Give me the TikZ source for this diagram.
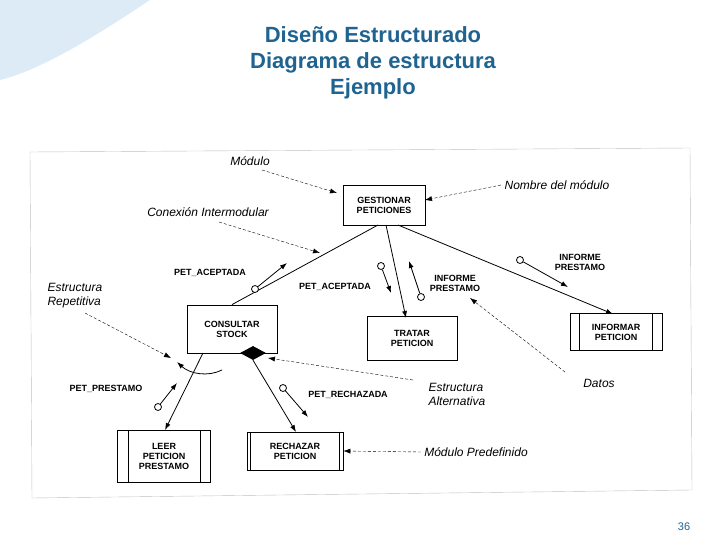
\documentclass[tikz,border=0pt]{standalone}
\usepackage{fontspec}
\setmainfont{Liberation Sans}
\usetikzlibrary{arrows.meta,shapes.geometric}
\definecolor{titleColor}{HTML}{1F6391}
\definecolor{waveColor}{HTML}{DCEBF5}

\begin{document}
\begin{tikzpicture}[x=1pt,y=-1pt,
modbox/.style={draw,thick,fill=white,font=\fontsize{9}{10}\selectfont\bfseries,align=center,inner sep=1pt},
call/.style={thick,-{Latex[length=7pt,width=5pt]}},
couple/.style={draw,circle,thick,minimum size=7pt,inner sep=0,fill=white},
flow/.style={thick,-{Latex[length=7pt,width=5pt]}},
note/.style={font=\fontsize{12}{14}\selectfont\itshape,align=left},
noteArrow/.style={densely dashed,-{Latex[length=7pt,width=5pt]}},
dlabel/.style={font=\fontsize{9}{10}\selectfont\bfseries,align=center}
]
\useasboundingbox (0,0) rectangle (728,546);
% background and scanned frame
\fill[waveColor] (0,0) -- (150,0) .. controls (90,40) and (40,70) .. (0,80) -- cycle;
\draw[black!25] (30,152) -- (690,148) -- (692,490) -- (32,498) -- cycle;
% title
\node[titleColor,font=\fontsize{22}{26}\selectfont\bfseries,align=center] (title) at (373,63)
  {Diseño Estructurado\\Diagrama de estructura\\Ejemplo};
\node[titleColor,font=\fontsize{11}{12}\selectfont] (page) at (684,527) {36};

% modules
\node[modbox,minimum width=82pt,minimum height=40pt] (gest) at (384,205) {GESTIONAR\\PETICIONES};
\node[modbox,minimum width=90pt,minimum height=48pt] (cons) at (232,329) {CONSULTAR\\STOCK};
\node[modbox,minimum width=90pt,minimum height=44pt] (trat) at (412,338) {TRATAR\\PETICION};
\node[modbox,minimum width=92pt,minimum height=37pt] (info) at (616,332) {INFORMAR\\PETICION};
\node[modbox,minimum width=93pt,minimum height=52pt] (leer) at (164,456) {LEER\\PETICION\\PRESTAMO};
\node[modbox,minimum width=96pt,minimum height=38pt] (rech) at (295,451) {RECHAZAR\\PETICION};
\foreach \m/\d in {info/10,leer/11,rech/4}{
  \draw[thick] ([xshift=\d pt]\m.north west) -- ([xshift=\d pt]\m.south west);
  \draw[thick] ([xshift=-\d pt]\m.north east) -- ([xshift=-\d pt]\m.south east);
}
\node[diamond,fill,minimum width=26pt,minimum height=14pt,inner sep=0] (alt) at (253,353) {};

% calls
\draw[thick] (378,225) -- (cons.north);
\draw[call] (386,225) -- (406,318);
\draw[call] (398,225) -- (613,314);
\draw[call] (203,353) -- (165,430);
\draw[call] (alt.south) -- (296,432);
\draw[thick,-{Latex[length=7pt,width=5pt]}] (222,370) .. controls (208,377) and (190,374) .. (177,362);

% data couples
\node[couple] (c1) at (255,289) {};
\node[couple] (c2) at (381,266) {};
\node[couple] (c3) at (421,297) {};
\node[couple] (c4) at (520,260) {};
\node[couple] (c5) at (158,407) {};
\node[couple] (c6) at (283,388) {};
\coordinate (e1) at (287,263);
\coordinate (e2) at (391,293);
\coordinate (e3) at (409,261);
\coordinate (e4) at (568,287);
\coordinate (e5) at (177,383);
\coordinate (e6) at (308,417);
\foreach \i in {1,...,6} \draw[flow] (c\i) -- (e\i);
\node[dlabel] (d1) at (210,273) {PET\_ACEPTADA};
\node[dlabel] (d2) at (335,287) {PET\_ACEPTADA};
\node[dlabel] (d3) at (455,283) {INFORME\\PRESTAMO};
\node[dlabel] (d4) at (580,262) {INFORME\\PRESTAMO};
\node[dlabel] (d5) at (106,389) {PET\_PRESTAMO};
\node[dlabel] (d6) at (348,395) {PET\_RECHAZADA};

% annotations
\node[note] (nMod) at (250,161) {Módulo};
\node[note] (nNom) at (557,185) {Nombre del módulo};
\node[note] (nCon) at (208,212) {Conexión Intermodular};
\node[note,anchor=west] (nRep) at (44,296) {Estructura\\Repetitiva};
\node[note,anchor=west] (nAlt) at (425,394) {Estructura\\Alternativa};
\node[note] (nDat) at (599,383) {Datos};
\node[note] (nPre) at (476,452) {Módulo Predefinido};
\coordinate (tMod) at (337,193);
\coordinate (tNom) at (425,200);
\coordinate (tCon) at (320,253);
\coordinate (tRep) at (171,358);
\coordinate (tAlt) at (268,358);
\coordinate (tDat) at (470,298);
\draw[noteArrow] (262,170) -- (tMod);
\draw[noteArrow] (nNom.west) -- (tNom);
\draw[noteArrow] (219,222) -- (tCon);
\draw[noteArrow] (85,313) -- (tRep);
\draw[noteArrow] (413,380) -- (tAlt);
\draw[noteArrow] (565,372) -- (tDat);
\draw[noteArrow] (nPre.west) -- (rech.east);
\end{tikzpicture}
\end{document}
